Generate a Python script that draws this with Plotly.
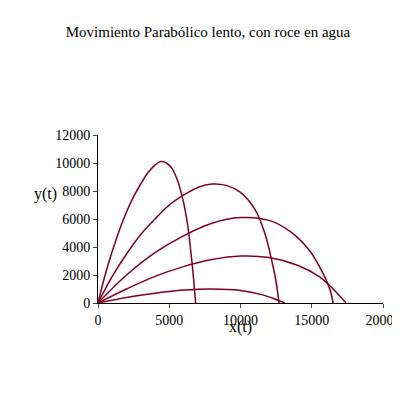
import plotly.graph_objects as go

# Curves (x, y)
x1 = [0, 500, 1000, 1500, 2000, 2500, 3000, 3500, 4000, 4400, 4800, 5200, 5600, 6000, 6300, 6500, 6700, 6850]
y1 = [0, 2000, 3700, 5200, 6500, 7600, 8500, 9300, 9850, 10100, 10000, 9600, 8700, 7200, 5500, 3800, 1800, 0]
x2 = [0, 1000, 2000, 3000, 4000, 5000, 6000, 7000, 8000, 9000, 10000, 11000, 11700, 12200, 12500, 12700]
y2 = [0, 1900, 3500, 4900, 6000, 7000, 7700, 8250, 8500, 8400, 7900, 6700, 5000, 3000, 1500, 0]
x3 = [0, 2000, 4000, 6000, 8000, 10000, 12000, 13500, 14800, 15800, 16300, 16500]
y3 = [0, 2000, 3600, 4800, 5700, 6100, 5900, 5100, 3800, 2100, 900, 0]
x4 = [0, 2000, 4000, 6000, 8000, 10000, 12000, 14000, 15500, 16500, 17400]
y4 = [0, 1000, 1900, 2600, 3100, 3350, 3250, 2700, 1900, 1000, 0]
x5 = [0, 2000, 4000, 6000, 8000, 10000, 11500, 12500, 13100]
y5 = [0, 400, 700, 920, 1000, 900, 600, 250, 0]

fig = go.Figure()
for xs, ys in [(x1, y1), (x2, y2), (x3, y3), (x4, y4), (x5, y5)]:
    fig.add_trace(go.Scatter(x=xs, y=ys, mode='lines', line=dict(color='#800020', width=1.5, shape='spline'),
                             showlegend=False))

axis = dict(showline=True, linecolor='black', linewidth=1, ticks='outside', ticklen=4,
            showgrid=False, zeroline=False, tickfont=dict(size=14), tickformat='d', automargin=False)
fig.update_layout(
    width=400, height=400,
    font=dict(family='Liberation Serif', color='black', size=14),
    plot_bgcolor='white', paper_bgcolor='white',
    margin=dict(l=90, r=25, t=127, b=105),
    title=dict(text='Movimiento Parabólico lento, con roce en agua', x=0.5, xanchor='center',
               y=0.955, font=dict(size=15), automargin=False),
    xaxis=dict(axis, range=[0, 20000], dtick=5000),
    yaxis=dict(axis, range=[0, 12000], dtick=2000),
)
fig.add_annotation(text='x(t)', xref='paper', yref='paper', x=0.5, y=-0.21, showarrow=False, font=dict(size=16))
fig.add_annotation(text='y(t)', xref='paper', yref='paper', x=-0.23, y=0.65, showarrow=False, font=dict(size=16))
fig.write_html("out.html")
